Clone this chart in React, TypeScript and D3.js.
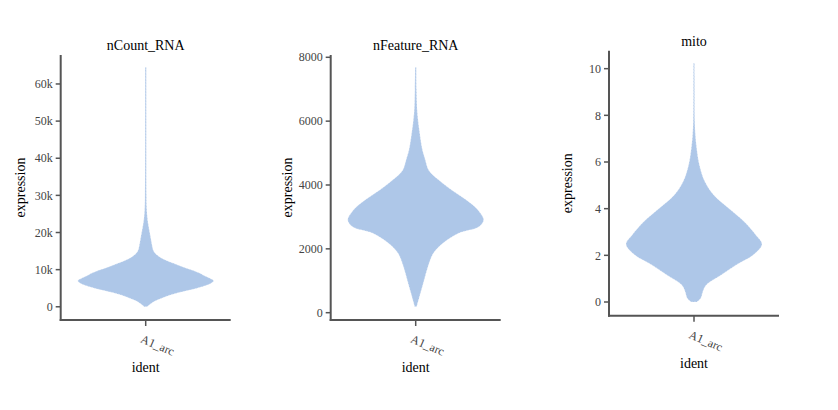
import React from "react";
import * as d3 from "d3";

// ---------- data ----------
const titles = ["nCount_RNA", "nFeature_RNA", "mito"];
const category = "A1_arc";

// [value, relative density]
const nCountProfile: [number, number][] = [
  [0, 0.02], [900, 0.08], [1800, 0.17], [2700, 0.29], [3600, 0.44], [4500, 0.65],
  [5400, 0.83], [6200, 0.95], [7000, 1.0], [7800, 0.93], [8500, 0.85], [9000, 0.8],
  [9900, 0.68], [10800, 0.54], [11700, 0.41], [12600, 0.29], [13500, 0.2],
  [14400, 0.14], [15300, 0.11], [16500, 0.095], [18000, 0.08], [20000, 0.06],
  [22000, 0.04], [24000, 0.025], [27000, 0.014], [30000, 0.011], [40000, 0.009],
  [50000, 0.008], [64500, 0.006],
];
const nFeatureProfile: [number, number][] = [
  [188, 0.015], [607, 0.07], [1024, 0.125], [1440, 0.18], [1860, 0.26], [2173, 0.4],
  [2486, 0.63], [2693, 0.93], [2903, 1.0], [3120, 0.95], [3320, 0.87], [3540, 0.74],
  [3740, 0.6], [3950, 0.46], [4156, 0.34], [4300, 0.26], [4470, 0.19], [4800, 0.14],
  [5096, 0.1], [5620, 0.06], [6245, 0.025], [7000, 0.012], [7685, 0.008],
];
const mitoProfile: [number, number][] = [
  [0, 0.04], [0.16, 0.1], [0.44, 0.13], [0.73, 0.18], [1.16, 0.4], [1.59, 0.62],
  [2.01, 0.87], [2.47, 1.0], [2.87, 0.91], [3.44, 0.74], [4.02, 0.51], [4.59, 0.29],
  [5.16, 0.16], [5.87, 0.08], [6.59, 0.04], [7.2, 0.02], [7.73, 0.012], [9.0, 0.009],
  [10.23, 0.007],
];
const profiles = [nCountProfile, nFeatureProfile, mitoProfile];

const yTicks = [
  [0, 10000, 20000, 30000, 40000, 50000, 60000],
  [0, 2000, 4000, 6000, 8000],
  [0, 2, 4, 6, 8, 10],
];
const yDomains: [number, number][] = [
  [-3560, 67800],
  [-229, 8072],
  [-0.587, 10.77],
];
const tickFormats = [
  (v: number) => (v === 0 ? "0" : `${v / 1000}k`),
  (v: number) => `${v}`,
  (v: number) => `${v}`,
];

// ---------- layout ----------
const panelLeft = [60.7, 330.7, 609];
const panelTop = [55, 55, 50.7];
const panelW = 170;
const panelH = 265;
const maxHalf = 68;
const labelOffset = [36, 39, 37];
const FONT = '"Liberation Serif", "Times New Roman", Times, serif';

function Panel({ i }: { i: number }) {
  const left = panelLeft[i];
  const top = panelTop[i];
  const bottom = top + panelH;
  const x = d3.scaleBand<string>().domain([category]).range([left, left + panelW]);
  const cx = (x(category) as number) + x.bandwidth() / 2;
  const y = d3.scaleLinear().domain(yDomains[i]).range([bottom, top]);
  const w = d3.scaleLinear().domain([0, 1]).range([0, maxHalf]);
  const area = d3
    .area<[number, number]>()
    .y((d) => y(d[0]))
    .x0((d) => cx - Math.max(w(d[1]), 0.6))
    .x1((d) => cx + Math.max(w(d[1]), 0.6))
    .curve(d3.curveCatmullRom.alpha(0.5));
  const path = area(profiles[i]) || "";
  const axisColor = "#555";
  return (
    <g>
      <text x={cx} y={top - 5} textAnchor="middle" fontSize={14} fill="#000">
        {titles[i]}
      </text>
      <path d={path} fill="#aec7e8" stroke="#ffffff" strokeWidth={0.7} strokeOpacity={0.6} strokeDasharray="2 1" />
      {/* y axis */}
      <line x1={left} x2={left} y1={top} y2={bottom + 1} stroke={axisColor} strokeWidth={2} />
      {yTicks[i].map((t) => (
        <g key={t}>
          <line x1={left - 5} x2={left} y1={y(t)} y2={y(t)} stroke={axisColor} strokeWidth={1.5} />
          <text x={left - 8} y={y(t)} dy="0.35em" textAnchor="end" fontSize={12} fill="#444">
            {tickFormats[i](t)}
          </text>
        </g>
      ))}
      {/* x axis */}
      <line x1={left - 1} x2={left + panelW} y1={bottom} y2={bottom} stroke={axisColor} strokeWidth={2} />
      <line x1={cx} x2={cx} y1={bottom} y2={bottom + 6} stroke={axisColor} strokeWidth={1.5} />
      <text transform={`translate(${cx - 6},${bottom + 22}) rotate(23)`} fontSize={12} fill="#444">
        {category}
      </text>
      <text x={cx} y={bottom + 52} textAnchor="middle" fontSize={14} fill="#000">
        ident
      </text>
      <text
        transform={`translate(${left - labelOffset[i]},${(top + bottom) / 2}) rotate(-90)`}
        textAnchor="middle"
        fontSize={14}
        fill="#000"
      >
        expression
      </text>
    </g>
  );
}

export default function App() {
  return (
    <svg
      width={838}
      height={410}
      style={{ position: "absolute", left: 0, top: 0, background: "#fff", fontFamily: FONT }}
    >
      {[0, 1, 2].map((i) => (
        <Panel key={i} i={i} />
      ))}
    </svg>
  );
}
